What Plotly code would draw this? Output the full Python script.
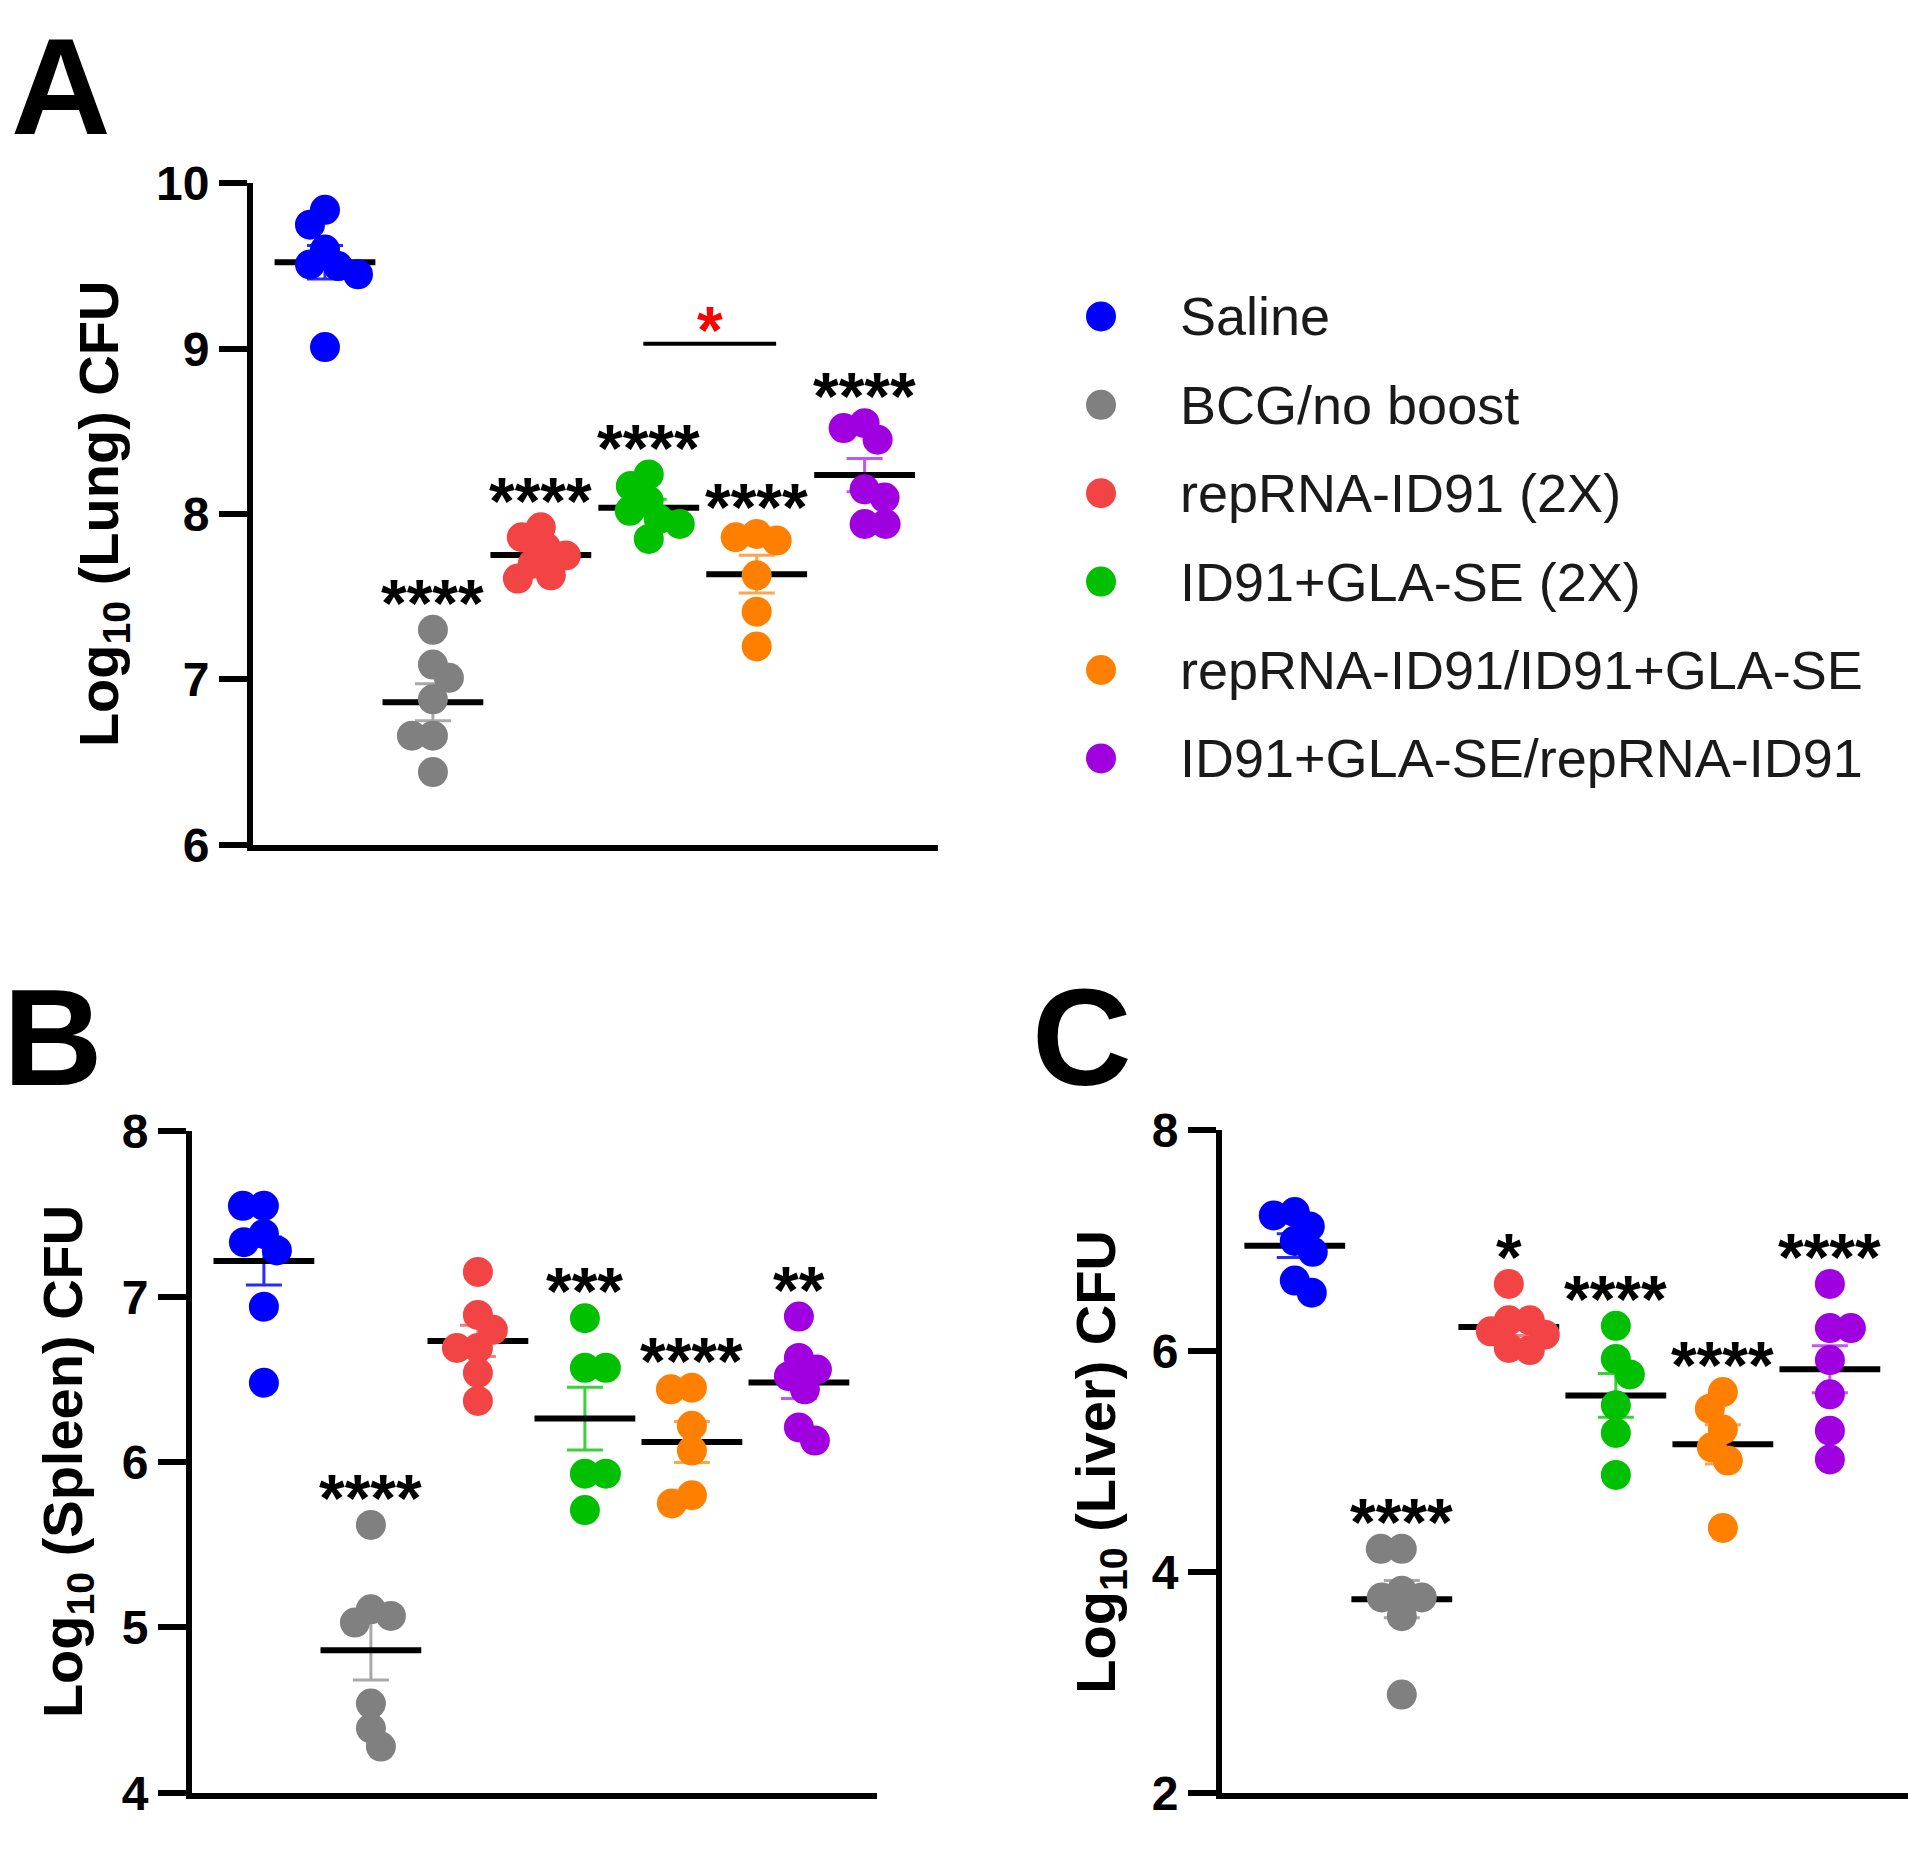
import numpy as np
import plotly.graph_objects as go

# layout is written in reference pixels
W, H = 1920, 1849
FONT = "Liberation Sans, Arial, sans-serif"

groups = ["Saline", "BCG/no boost", "repRNA-ID91 (2X)", "ID91+GLA-SE (2X)",
          "repRNA-ID91/ID91+GLA-SE", "ID91+GLA-SE/repRNA-ID91"]
colors = ["#0000ff", "#808080", "#f24444", "#00c000", "#ff8000", "#a000e0"]
err_colors = ["#2a2aff", "#a8a8a8", "#f47c7c", "#3ccf3c", "#f8a652", "#c058f0"]

# log10 CFU, lung
lung_saline = [9.84, 9.75, 9.60, 9.51, 9.50, 9.45, 9.01]
lung_bcg = [7.30, 7.09, 7.01, 6.88, 6.66, 6.66, 6.44]
lung_rep = [7.92, 7.86, 7.80, 7.75, 7.70, 7.63, 7.61]
lung_gla = [8.24, 8.17, 8.08, 8.02, 7.97, 7.94, 7.85]
lung_rep_gla = [7.88, 7.86, 7.84, 7.63, 7.41, 7.20]
lung_gla_rep = [8.55, 8.52, 8.45, 8.15, 8.10, 7.94, 7.94]
lung_sig = ["", "****", "****", "****", "****", "****"]

# spleen
spleen_saline = [7.55, 7.55, 7.38, 7.33, 7.28, 6.94, 6.48]
spleen_bcg = [5.62, 5.11, 5.07, 5.03, 4.54, 4.39, 4.28]
spleen_rep = [7.15, 6.89, 6.80, 6.69, 6.69, 6.54, 6.37]
spleen_gla = [6.87, 6.57, 6.57, 5.93, 5.93, 5.71]
spleen_rep_gla = [6.45, 6.44, 6.22, 6.07, 5.80, 5.75]
spleen_gla_rep = [6.88, 6.63, 6.56, 6.52, 6.44, 6.21, 6.13]
spleen_sig = ["", "****", "", "***", "****", "**"]

# liver
liver_saline = [7.26, 7.23, 7.13, 7.00, 6.90, 6.64, 6.53]
liver_bcg = [4.21, 4.21, 3.83, 3.77, 3.77, 3.60, 2.89]
liver_rep = [6.61, 6.28, 6.28, 6.18, 6.15, 6.03, 6.01]
liver_gla = [6.23, 5.93, 5.79, 5.51, 5.26, 4.88]
liver_rep_gla = [5.63, 5.48, 5.29, 5.13, 5.01, 4.40]
liver_gla_rep = [6.61, 6.21, 6.21, 5.92, 5.61, 5.28, 5.02]
liver_sig = ["", "****", "*", "****", "****", "****"]

# lung comparison: groups 3 vs 4
bracket_level = 9.03

panels = [
    dict(data=[lung_saline, lung_bcg, lung_rep, lung_gla, lung_rep_gla, lung_gla_rep],
         sig=lung_sig, title="Log<sub>10</sub> (Lung) CFU", letter="A",
         box=(253, 938, 162, 843), xr=(-0.667, 5.68), yr=(6, 10), dtick=1,
         title_x=102, letter_xy=(61, 62)),
    dict(data=[spleen_saline, spleen_bcg, spleen_rep, spleen_gla, spleen_rep_gla, spleen_gla_rep],
         sig=spleen_sig, title="Log<sub>10</sub> (Spleen) CFU", letter="B",
         box=(192, 877, 1138, 1819), xr=(-0.672, 5.73), yr=(4, 8), dtick=1,
         title_x=66, letter_xy=(53, 1041)),
    dict(data=[liver_saline, liver_bcg, liver_rep, liver_gla, liver_rep_gla, liver_gla_rep],
         sig=liver_sig, title="Log<sub>10</sub> (Liver) CFU", letter="C",
         box=(1222, 1908, 1137, 1819), xr=(-0.68, 5.73), yr=(2, 8), dtick=2,
         title_x=1100, letter_xy=(1082, 1041)),
]

DOT = 30
STAR_FS = 66


def swarm(vals, px_y, px_x, dmin=21):
    # simple beeswarm: smallest horizontal shift that keeps dots apart
    vals = np.asarray(vals, dtype=float)
    order = np.argsort(-vals, kind="stable")
    placed = []
    offs = np.zeros(len(vals))
    for n, i in enumerate(order):
        y = vals[i] * px_y
        dx_ok = 0
        for m in range(0, 90):
            cands = [-m, m] if n % 2 else [m, -m]
            hit = None
            for dx in cands:
                if all((dx - px) ** 2 + (y - py) ** 2 >= dmin ** 2 for px, py in placed):
                    hit = dx
                    break
            if hit is not None:
                dx_ok = hit
                break
        placed.append((dx_ok, y))
        offs[i] = dx_ok / px_x
    return offs


fig = go.Figure()
annotations = []
shapes = []

for k, p in enumerate(panels):
    n = k + 1
    xa, ya = ("x", "y") if n == 1 else (f"x{n}", f"y{n}")
    left, right, top, bottom = p["box"]
    px_x = (right - left) / (p["xr"][1] - p["xr"][0])
    px_y = (bottom - top) / (p["yr"][1] - p["yr"][0])

    # mean +/- SEM under the dots
    for i, vals in enumerate(p["data"]):
        v = np.asarray(vals)
        mean = v.mean()
        sem = v.std(ddof=1) / np.sqrt(len(v))
        fig.add_trace(go.Scatter(
            x=[i], y=[mean], mode="markers", xaxis=xa, yaxis=ya,
            marker=dict(color="rgba(0,0,0,0)", size=1),
            error_y=dict(type="data", array=[sem], color=err_colors[i], thickness=3, width=18),
            showlegend=False, hoverinfo="skip"))
        fig.add_trace(go.Scatter(
            x=[i], y=[mean], mode="markers", xaxis=xa, yaxis=ya,
            marker=dict(symbol="line-ew", size=72, line=dict(width=6, color="black")),
            showlegend=False, hoverinfo="skip"))

    for i, vals in enumerate(p["data"]):
        offs = swarm(vals, px_y, px_x)
        fig.add_trace(go.Scatter(
            x=i + offs, y=vals, mode="markers", xaxis=xa, yaxis=ya,
            marker=dict(color=colors[i], size=DOT, line=dict(width=0)),
            showlegend=False, hoverinfo="skip"))
        if p["sig"][i]:
            annotations.append(dict(
                x=i, y=max(vals), xref=xa, yref=ya, text=p["sig"][i], showarrow=False,
                xanchor="center", yanchor="middle", yshift=42 - 0.23 * STAR_FS,
                font=dict(family=FONT, size=STAR_FS, color="black", weight="bold")))

    axis_common = dict(showline=True, linewidth=6, linecolor="black", showgrid=False,
                       zeroline=False, fixedrange=True)
    fig.update_layout({
        ("xaxis" if n == 1 else f"xaxis{n}"): dict(
            axis_common, domain=[left / W, right / W], range=list(p["xr"]),
            showticklabels=False, ticks="", anchor=ya),
        ("yaxis" if n == 1 else f"yaxis{n}"): dict(
            axis_common, domain=[1 - bottom / H, 1 - top / H], range=list(p["yr"]),
            dtick=p["dtick"], tick0=0, ticks="outside", ticklen=28, tickwidth=6,
            tickcolor="black",
            tickfont=dict(family=FONT, size=48, color="black", weight="bold"),
            anchor=xa),
    })

    annotations.append(dict(
        x=p["title_x"] / W, y=1 - (top + bottom) / 2 / H, xref="paper", yref="paper",
        text=p["title"], textangle=-90, showarrow=False, xanchor="center", yanchor="middle",
        font=dict(family=FONT, size=56, color="black", weight="bold")))
    lx, ly = p["letter_xy"]
    annotations.append(dict(
        x=lx / W, y=1 - ly / H, xref="paper", yref="paper", text=p["letter"],
        showarrow=False, xanchor="center", yanchor="middle",
        font=dict(family=FONT, size=138, color="black", weight="bold")))

# significance bracket, lung panel
shapes.append(dict(type="line", xref="x", yref="y", x0=2.95, x1=4.18,
                   y0=bracket_level, y1=bracket_level, line=dict(color="black", width=4)))
annotations.append(dict(
    x=(2.95 + 4.18) / 2, y=bracket_level, xref="x", yref="y", text="*", showarrow=False,
    xanchor="center", yanchor="middle", yshift=29 - 0.23 * STAR_FS,
    font=dict(family=FONT, size=STAR_FS, color="#ff0000", weight="bold")))

# legend, drawn on its own axis pair in pixel units (right of panel A only)
LEG_BOX = (1050, W, 230, 820)
leg_x, leg_text_x, leg_y0, leg_dy = 1101, 1178, 299, 91
fig.add_trace(go.Scatter(
    x=[leg_x] * len(groups), y=[leg_y0 + leg_dy * i for i in range(len(groups))],
    mode="markers", xaxis="x4", yaxis="y4",
    marker=dict(color=colors, size=DOT, line=dict(width=0)),
    showlegend=False, hoverinfo="skip"))
for i, g in enumerate(groups):
    annotations.append(dict(
        x=leg_text_x, y=leg_y0 + leg_dy * i, xref="x4", yref="y4", text=g, showarrow=False,
        xanchor="left", yanchor="middle",
        font=dict(family=FONT, size=54, color="#1a1a1a")))

fig.update_layout(
    width=W, height=H, margin=dict(l=0, r=0, t=0, b=0),
    paper_bgcolor="white", plot_bgcolor="rgba(0,0,0,0)", showlegend=False,
    xaxis4=dict(domain=[LEG_BOX[0] / W, LEG_BOX[1] / W], range=[LEG_BOX[0], LEG_BOX[1]],
                visible=False, fixedrange=True, anchor="y4"),
    yaxis4=dict(domain=[1 - LEG_BOX[3] / H, 1 - LEG_BOX[2] / H], range=[LEG_BOX[3], LEG_BOX[2]],
                visible=False, fixedrange=True, anchor="x4"),
    annotations=annotations, shapes=shapes,
)

fig.write_html("out.html", config={"displayModeBar": False},
               post_script="document.body.style.margin='0';")
